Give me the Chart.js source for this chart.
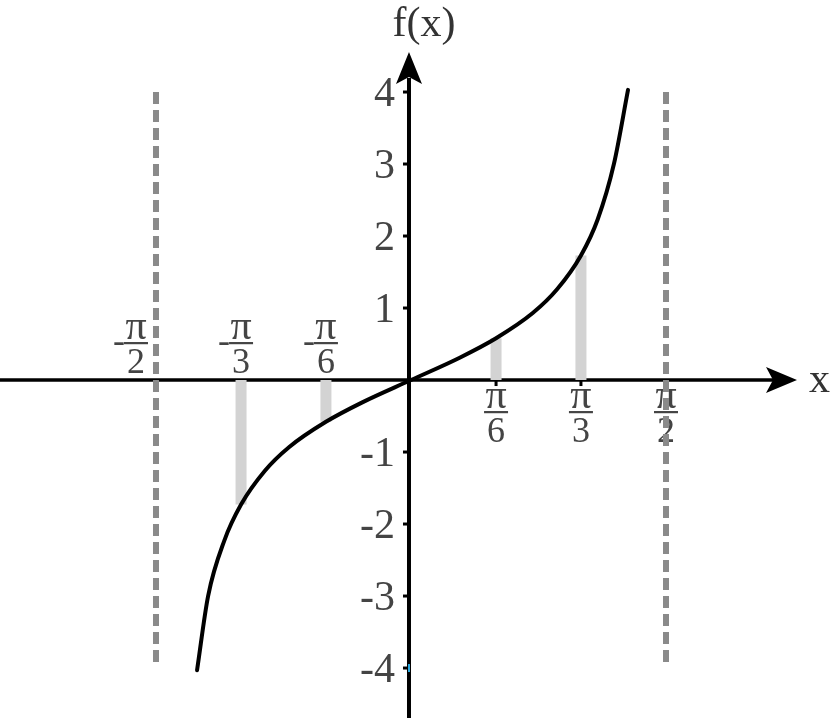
<!DOCTYPE html>
<html>
<head>
<meta charset="utf-8">
<script src="https://cdn.jsdelivr.net/npm/chart.js@4.4.0/dist/chart.umd.min.js"></script>
<style>
  html, body { margin: 0; padding: 0; background: #fff; }
  #wrap { width: 834px; height: 718px; }
</style>
</head>
<body>
<div id="wrap"><canvas id="chart" width="834" height="718"></canvas></div>
<script>
// f(x) = tan x (x in radians)
const curveX = [-1.318, -1.25, -1.15, -1.047, -0.9, -0.75, -0.524, -0.3, 0, 0.3, 0.524, 0.75, 0.9, 1.047, 1.15, 1.25, 1.337];
const curveY = [-4.03, -3.0, -2.23, -1.73, -1.26, -0.93, -0.58, -0.31, 0, 0.31, 0.58, 0.93, 1.26, 1.73, 2.23, 3.0, 4.03];

// grey bars from the axis up (or down) to the curve
const barX = [-1.047, -0.524, 0.524, 1.047];
const barY = [-1.73, -0.58, 0.58, 1.73];

// asymptotes at +/- pi/2
const asymptoteX = [-1.571, 1.571];
const asymptoteSpan = [4, -4];

// axis ticks and labels
const yTicks = [4, 3, 2, 1, -1, -2, -3, -4];
const xTicks = [-1.571, -1.047, -0.524, 0.524, 1.047, 1.571];
const xTickDen = ['2', '3', '6', '6', '3', '2'];
const xTickNum = 'π';
const xAxisTitle = 'x';
const yAxisTitle = 'f(x)';

const SERIF = '"Liberation Serif", "DejaVu Serif", serif';
const TEXT = '#444';

const datasets = [];
datasets.push({
  data: curveX.map((x, i) => ({ x: x, y: curveY[i] })),
  borderColor: '#000',
  borderWidth: 4,
  borderCapStyle: 'round',
  cubicInterpolationMode: 'monotone',
  pointRadius: 0,
  clip: false
});
barX.forEach((x, i) => {
  datasets.push({
    data: [{ x: x, y: 0 }, { x: x, y: barY[i] }],
    borderColor: '#d3d3d3',
    borderWidth: 11,
    borderCapStyle: 'butt',
    pointRadius: 0
  });
});
asymptoteX.forEach(x => {
  datasets.push({
    data: [{ x: x, y: asymptoteSpan[0] }, { x: x, y: asymptoteSpan[1] }],
    borderColor: '#8a8a8a',
    borderWidth: 6,
    borderDash: [12, 6],
    borderCapStyle: 'butt',
    pointRadius: 0
  });
});

// axes, arrows and labels drawn under the datasets
const axesPlugin = {
  id: 'axes',
  beforeDatasetsDraw(chart) {
    const ctx = chart.ctx;
    const xs = chart.scales.x, ys = chart.scales.y;
    const ox = xs.getPixelForValue(0) - 2;
    const oy = ys.getPixelForValue(0);
    ctx.save();
    ctx.strokeStyle = '#000';
    ctx.fillStyle = '#000';

    // horizontal axis + arrow
    ctx.lineWidth = 3.5;
    ctx.beginPath();
    ctx.moveTo(0, oy);
    ctx.lineTo(775, oy);
    ctx.stroke();
    ctx.beginPath();
    ctx.moveTo(797, oy);
    ctx.lineTo(766, oy - 13);
    ctx.lineTo(773, oy);
    ctx.lineTo(766, oy + 13);
    ctx.closePath();
    ctx.fill();

    // vertical axis + arrow
    ctx.lineWidth = 4;
    ctx.beginPath();
    ctx.moveTo(ox, 718);
    ctx.lineTo(ox, 78);
    ctx.stroke();
    ctx.beginPath();
    ctx.moveTo(ox, 52);
    ctx.lineTo(ox - 13, 84);
    ctx.lineTo(ox, 77);
    ctx.lineTo(ox + 13, 84);
    ctx.closePath();
    ctx.fill();

    // y ticks and labels
    ctx.font = '42px ' + SERIF;
    ctx.textAlign = 'right';
    ctx.textBaseline = 'middle';
    yTicks.forEach(v => {
      const py = ys.getPixelForValue(v);
      ctx.fillStyle = '#000';
      ctx.fillRect(ox - 6, py - 1.5, 6, 3);
      ctx.fillStyle = TEXT;
      ctx.fillText(String(v), 395, py + 3);
    });
    // small blue mark at -4 seen in the picture
    ctx.fillStyle = '#29abe2';
    ctx.fillRect(ox - 1, ys.getPixelForValue(-4) - 4, 2, 8);

    // x tick labels as fractions
    xTickDen.forEach((den, i) => {
      const v = xTicks[i];
      let cx = xs.getPixelForValue(v);
      const neg = v < 0;
      if (neg && asymptoteX.indexOf(v) >= 0) cx -= 20;
      const barYpx = neg ? oy - 37 : oy + 32;
      ctx.fillStyle = '#000';
      if (!neg) ctx.fillRect(cx - 1.5, oy, 3, 6);
      ctx.fillStyle = TEXT;
      ctx.fillRect(cx - 12, barYpx - 1, 24, 2.2);
      ctx.font = '42px ' + SERIF;
      ctx.textAlign = 'center';
      ctx.textBaseline = 'alphabetic';
      ctx.fillText(xTickNum, cx, barYpx - 4);
      ctx.font = '36px ' + SERIF;
      ctx.fillText(den, cx, barYpx + 30);
      if (neg) {
        ctx.textAlign = 'right';
        ctx.fillText('-', cx - 11, barYpx + 9);
      }
    });

    // axis titles
    ctx.fillStyle = '#333';
    ctx.font = '42px ' + SERIF;
    ctx.textAlign = 'center';
    ctx.textBaseline = 'alphabetic';
    ctx.fillText(yAxisTitle, 424, 36);
    ctx.textAlign = 'left';
    ctx.fillText(xAxisTitle, 809, 392);
    ctx.restore();
  }
};

new Chart(document.getElementById('chart'), {
  type: 'line',
  data: { datasets: datasets },
  options: {
    responsive: false,
    animation: false,
    devicePixelRatio: 1,
    layout: { padding: 0 },
    plugins: { legend: { display: false }, tooltip: { enabled: false } },
    scales: {
      x: { type: 'linear', min: -2.532, max: 2.606, display: false },
      y: { type: 'linear', min: -4.694, max: 5.278, display: false }
    }
  },
  plugins: [axesPlugin]
});
</script>
</body>
</html>
